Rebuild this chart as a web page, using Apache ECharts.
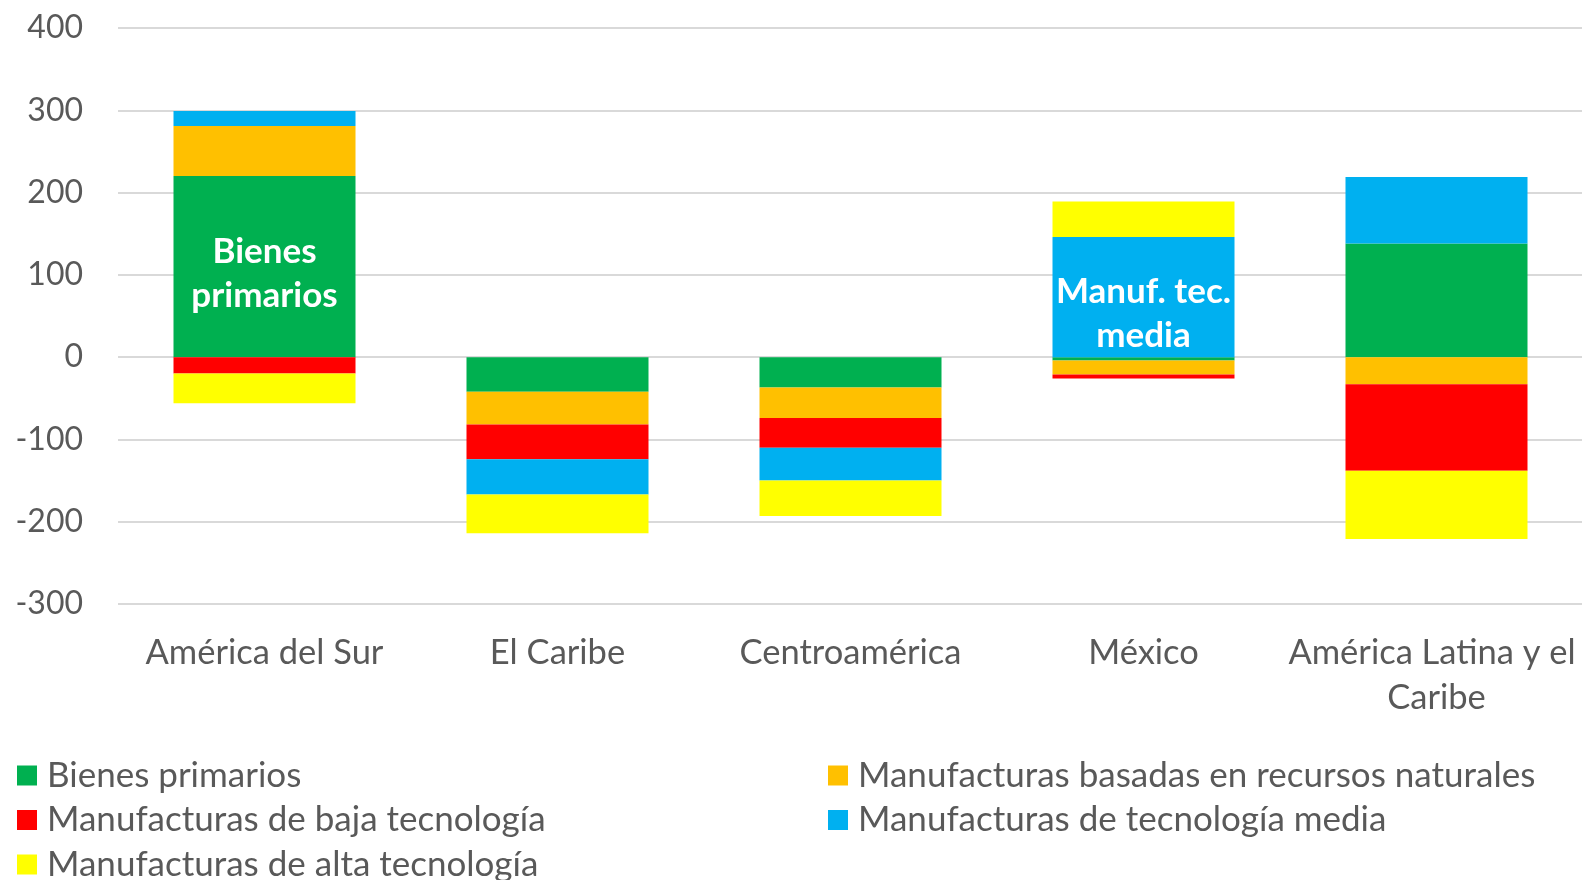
<!DOCTYPE html>
<html>
<head>
<meta charset="utf-8">
<script src="https://cdn.jsdelivr.net/npm/echarts@6/dist/echarts.min.js"></script>
<style>
    html, body {margin: 0; padding: 0; background: #fff;}
    #chart {width: 1582px; height: 880px;}
</style>
</head>
<body>
<div id="chart"></div>
<script>
const regiones = ['América del Sur', 'El Caribe', 'Centroamérica', 'México', 'América Latina y el Caribe'];

const seriesNames = [
    'Bienes primarios',
    'Manufacturas basadas en recursos naturales',
    'Manufacturas de baja tecnología',
    'Manufacturas de tecnología media',
    'Manufacturas de alta tecnología'
];
const colors = ['#00B050', '#FFC000', '#FF0000', '#00B0F0', '#FFFF00'];

const bienesPrimarios = [220, -42, -37, -4, 138];
const basadasRecursos = [61, -40, -37, -17, -33];
const bajaTecnologia = [-20, -42, -36, -5, -105];
const tecnologiaMedia = [18, -43, -40, 146, 81];
const altaTecnologia = [-36, -47, -43, 43, -83];

const yTicks = [-300, -200, -100, 0, 100, 200, 300, 400];

// etiquetas dentro de las barras: [serie, region, texto]
const barLabels = [
    [0, 0, 'Bienes\nprimarios'],
    [3, 3, 'Manuf. tec.\nmedia']
];
// desplazamiento vertical de cada etiqueta (px)
const labelShift = [7, 17];

const values = [bienesPrimarios, basadasRecursos, bajaTecnologia, tecnologiaMedia, altaTecnologia];
const fontFamily = 'Lato, "Open Sans", sans-serif';
const textColor = '#595959';

const chart = echarts.init(document.getElementById('chart'), null, {renderer: 'canvas'});

const series = values.map((arr, si) => ({
    name: seriesNames[si],
    type: 'bar',
    stack: 'total',
    barWidth: 182,
    itemStyle: {color: colors[si]},
    data: arr.map((v, ri) => {
        const idx = barLabels.findIndex(l => l[0] === si && l[1] === ri);
        if (idx < 0) return v;
        return {
            value: v,
            label: {
                show: true,
                position: 'inside',
                offset: [0, labelShift[idx]],
                formatter: barLabels[idx][2],
                color: '#fff',
                fontWeight: 'bold',
                fontSize: 35,
                lineHeight: 44,
                fontFamily: fontFamily
            }
        };
    })
}));

const legendText = {color: textColor, fontSize: 35, fontFamily: fontFamily, lineHeight: 32, padding: [0, 0, 0, 5]};

chart.setOption({
    animation: false,
    color: colors,
    grid: {left: 118, right: -1, top: 28, bottom: 276, outerBoundsMode: 'none', containLabel: false},
    legend: [{
        orient: 'vertical',
        left: 17,
        top: 758,
        height: 300,
        padding: 0,
        itemWidth: 20,
        itemHeight: 20,
        itemGap: 9.5,
        icon: 'rect',
        textStyle: legendText,
        data: [seriesNames[0], seriesNames[2], seriesNames[4]]
    }, {
        orient: 'vertical',
        left: 828,
        top: 758,
        height: 300,
        padding: 0,
        itemWidth: 20,
        itemHeight: 20,
        itemGap: 9.5,
        icon: 'rect',
        textStyle: legendText,
        data: [seriesNames[1], seriesNames[3]]
    }],
    xAxis: {
        type: 'category',
        data: regiones,
        position: 'bottom',
        axisLine: {show: false},
        axisTick: {show: false},
        axisLabel: {
            color: textColor,
            fontSize: 34.5,
            fontFamily: fontFamily,
            lineHeight: 45,
            margin: 26,
            interval: 0,
            width: 330,
            overflow: 'break'
        }
    },
    yAxis: {
        type: 'value',
        min: yTicks[0],
        max: yTicks[yTicks.length - 1],
        interval: 100,
        axisLine: {show: false},
        axisTick: {show: false},
        axisLabel: {color: textColor, fontSize: 32, fontFamily: fontFamily, margin: 35},
        splitLine: {lineStyle: {color: '#d9d9d9', width: 2}}
    },
    series: series
});
</script>
</body>
</html>
